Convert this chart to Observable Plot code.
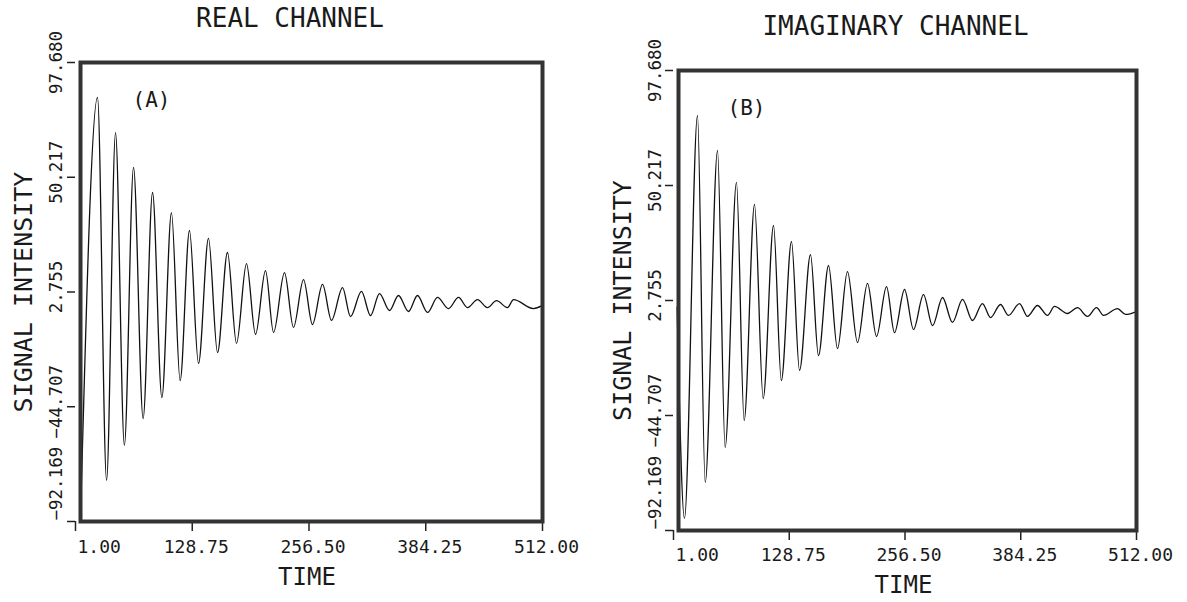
<!DOCTYPE html>
<html><head><meta charset="utf-8">
<script src="https://cdn.jsdelivr.net/npm/d3@7"></script>
<script src="https://cdn.jsdelivr.net/npm/@observablehq/plot@0.6"></script>
<style>
html,body{margin:0;padding:0;background:#fff;}
#wrap{display:flex;width:1187px;height:602px;overflow:hidden;}
</style></head><body><div id="wrap"></div>
<script>
// ---- data ----
const xTicks = [1, 128.75, 256.5, 384.25, 512];
const yTicks = [-92.169, -44.707, 2.755, 50.217, 97.68];
const titles = ["REAL CHANNEL", "IMAGINARY CHANNEL"];
const panelTags = ["(A)", "(B)"];
const xLabel = "TIME";
const yLabel = "SIGNAL INTENSITY";

const timeA = [7, 25.1, 35, 44.8, 54.5, 64.5, 75, 85.3, 95.5, 106.0, 115.5, 125.7, 135.6, 146.5, 156.4, 167.3, 177.2, 188.1, 198.0, 208.9, 217.7, 229.7, 239.5, 250.5, 260.3, 271.3, 281.1, 293.2, 301.9, 313.9, 323.8, 333.6, 344.6, 354.4, 365.4, 375.2, 386.2, 397.1, 409.1, 420.1, 429.9, 440.9, 451.8, 461.7, 473.7, 480.3, 502.1, 512];
const realA = [-83.5, 83.2, -75.2, 68.7, -60.7, 54.3, -49.6, 43.9, -40.9, 35.6, -33.9, 28.2, -26.8, 24.9, -22.3, 19.1, -18.5, 14.5, -14.8, 11.6, -14.0, 10.8, -11.9, 7.9, -10.7, 5.9, -9.0, 4.6, -7.4, 3.0, -7.0, 2.1, -4.9, 1.3, -5.3, 1.3, -5.7, 0.5, -4.1, 0.5, -3.7, -0.4, -3.7, -0.8, -3.7, -0.4, -4.1, -2.8];

const timeB = [5, 13.1, 27.5, 36, 49.6, 58, 70.5, 79, 90.4, 100, 111.4, 120, 131.2, 140.1, 152.2, 161.0, 172.1, 182.0, 193.0, 204.1, 215.1, 225.1, 236.1, 244.9, 256.0, 265.9, 276.9, 286.9, 297.9, 308.9, 320.0, 331.0, 342.0, 350.9, 361.9, 370.7, 382.9, 391.7, 402.7, 413.8, 421.5, 435.9, 446.9, 457.9, 467.9, 475.6, 491.0, 499.9, 512];
const imagB = [0, -87.2, 79.1, -72.4, 64.7, -57.9, 51.5, -46.8, 42.4, -37.7, 33.7, -30.3, 27.1, -26.1, 21.7, -20.0, 17.2, -17.1, 14.7, -14.6, 9.8, -12.1, 8.5, -10.5, 7.3, -9.2, 5.2, -7.6, 4.0, -6.3, 3.2, -5.5, 1.5, -4.3, 1.1, -3.4, 1.5, -3.8, 0.7, -3.4, 0.3, -2.6, -0.2, -3.8, -0.2, -3.4, -0.6, -3.0, -1.8];

// ---- drawing ----
const FONT = "DejaVu Sans Mono";
const fmtX = d3.format(".2f");
const fmtY = d3.format(".3f");

function panel(times, values, title, tag, L) {
  const data = times.map((t, i) => ({t, v: values[i]}));
  const common = {fontFamily: FONT, fill: "#1a1a1a", lineAnchor: "middle"};
  return Plot.plot({
    width: L.width, height: 602,
    marginLeft: L.ml, marginRight: L.mr, marginTop: L.mt, marginBottom: L.mb,
    style: {background: "#fff", fontFamily: FONT, color: "#111", overflow: "visible"},
    x: {domain: [1, 512]},
    y: {domain: [-92.169, 97.68]},
    marks: [
      Plot.axisX({ticks: xTicks, tickSize: 10, tickFormat: () => "", label: null, stroke: "#222", strokeWidth: 1.5}),
      Plot.axisY({ticks: yTicks, tickSize: 8, tickFormat: () => "", label: null, stroke: "#222", strokeWidth: 1.5}),
      Plot.line(data, {x: "t", y: "v", curve: "monotone-x", stroke: "#111", strokeWidth: 1.3}),
      Plot.frame({stroke: "#333", strokeWidth: 4, insetLeft: 5}),
      // x tick labels
      Plot.text([xTicks[0]], {x: d => d, text: d => fmtX(d), frameAnchor: "bottom", dy: L.xdy, dx: 2, textAnchor: "start", fontSize: 18, ...common}),
      Plot.text(xTicks.slice(1), {x: d => d, text: d => fmtX(d), frameAnchor: "bottom", dy: L.xdy, dx: 4, textAnchor: "middle", fontSize: 18, ...common}),
      // y tick labels (rotated)
      Plot.text(yTicks.slice(1, 4), {y: d => d, text: d => fmtY(d), frameAnchor: "left", rotate: -90, dx: L.ydx, dy: -5, textAnchor: "middle", fontSize: 17.5, ...common}),
      Plot.text([yTicks[4]], {y: d => d, text: d => fmtY(d), frameAnchor: "left", rotate: -90, dx: L.ydx, dy: 0, textAnchor: "middle", fontSize: 17.5, ...common}),
      Plot.text([yTicks[0]], {y: d => d, text: d => fmtY(d), frameAnchor: "left", rotate: -90, dx: L.ydx, dy: -1, textAnchor: "start", fontSize: 17.5, ...common}),
      // titles and labels
      Plot.text([title], {text: d => d, frameAnchor: "top", dx: L.tdx, dy: L.tdy, textAnchor: "middle", fontSize: 26, ...common}),
      Plot.text([tag], {text: d => d, frameAnchor: "top-left", dx: L.gdx, dy: 38, textAnchor: "middle", fontSize: 21, ...common}),
      Plot.text([xLabel], {text: d => d, frameAnchor: "bottom", dx: L.ldx, dy: L.ldy, textAnchor: "middle", fontSize: 24, ...common}),
      Plot.text([yLabel], {text: d => d, frameAnchor: "left", rotate: -90, dx: L.ylx, textAnchor: "middle", fontSize: 25, ...common})
    ]
  });
}

const wrap = document.getElementById("wrap");
wrap.appendChild(panel(timeA, realA, titles[0], panelTags[0],
  {width: 593, ml: 75, mr: 51, mt: 62, mb: 81, xdy: 26, ydx: -19, tdx: -19, tdy: -44, gdx: 76, ldx: -2, ldy: 56, ylx: -52}));
wrap.appendChild(panel(timeB, imagB, titles[1], panelTags[1],
  {width: 594, ml: 80, mr: 51, mt: 70, mb: 72, xdy: 25, ydx: -18, tdx: -9.5, tdy: -44, gdx: 73, ldx: -1.5, ldy: 55, ylx: -51}));
</script>
</body></html>
